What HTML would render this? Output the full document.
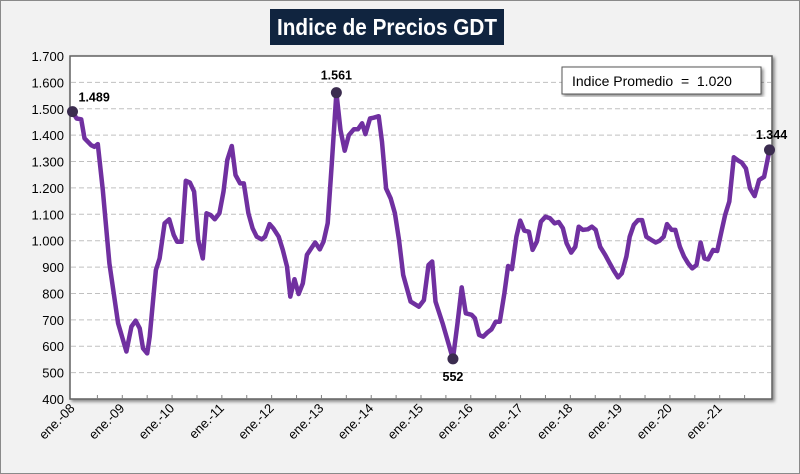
<!DOCTYPE html>
<html><head><meta charset="utf-8"><style>
body{margin:0;background:#fff;}
svg{display:block;font-family:"Liberation Sans",sans-serif;}
</style></head><body>
<svg width="800" height="474" viewBox="0 0 800 474">
<defs><filter id="sh" x="-5%" y="-5%" width="115%" height="115%"><feDropShadow dx="2" dy="2" stdDeviation="1.5" flood-color="#000" flood-opacity="0.45"/></filter></defs>
<rect x="0.5" y="0.5" width="799" height="473" fill="#f2f2f2" stroke="#8a8a8a"/>
<rect x="270" y="9" width="234" height="36" fill="#10243f"/>
<text x="277" y="35" textLength="220" lengthAdjust="spacingAndGlyphs" fill="#fff" font-size="23" font-weight="bold">Indice de Precios GDT</text>
<rect x="70" y="56" width="702" height="343" fill="#fff" stroke="#606060" stroke-width="1.5" filter="url(#sh)"/>
<g id="grid"></g><g id="yt"></g><g id="xt"></g>
<path id="line" fill="none" stroke="#7030a0" stroke-width="4.5" stroke-linejoin="round"/>
<g id="marks"></g>
<rect x="562" y="67" width="199" height="27" fill="#fff" stroke="#555" filter="url(#sh)"/>
<text x="572" y="86" font-size="14" fill="#000" xml:space="preserve" style="white-space:pre">Indice Promedio  =  1.020</text>
</svg>
<script>
const months=[0,1,2.1,2.9,4.5,5.3,6.1,7.3,8.9,11,13,14.2,15.2,16.2,17,18,18.6,20.1,21,22.2,23.3,24.4,25.2,26.3,27.3,28.3,29.3,30.3,31.4,32.3,33.3,34.3,35.4,36.4,37.3,38.4,39.3,40.4,41.3,42.4,43.4,44.4,45.6,46.4,47.5,48.4,49.7,50.7,51.7,52.5,53.5,54.5,55.5,56.5,57.7,58.5,59.6,60.5,61.5,62.5,63.6,64.6,65.6,66.6,67.8,68.8,69.8,70.6,71.7,72.6,73.8,74.6,75.6,76.7,77.7,78.7,79.7,81.5,83.5,84.7,85.8,86.7,87.5,89.2,90.6,91.7,92.8,93.8,94.8,96.2,97,98,99,100,101,102,103,104.1,105,105.9,107,107.9,108.9,110,110.9,111.9,112.9,114,115.1,116.2,117.2,118.2,119.1,120.2,121.2,122,123,124.2,125.2,126.1,127.2,128.4,129.5,130.5,131.5,132.4,133.5,134.3,135.3,136.3,137.3,138.3,139.5,140.6,141.5,142.5,143.3,144.4,145.3,146.4,147.4,148.4,149.4,150.4,151.4,152.3,153.2,154.4,155.4,156.5,157.3,158.3,159.4,160.5,161.3,162.3,163.3,164.4,165.5,166.7,167.7,168];
const values=[1489,1463,1460,1388,1362,1356,1366,1192,914,687,580,674,697,668,592,573,636,889,933,1066,1081,1022,996,996,1227,1220,1186,1003,933,1104,1097,1081,1104,1186,1306,1359,1249,1217,1217,1104,1047,1015,1005,1015,1063,1047,1015,965,902,788,854,798,838,946,975,993,967,996,1066,1293,1561,1419,1341,1400,1422,1422,1445,1404,1463,1466,1472,1375,1198,1160,1104,1003,870,769,750,775,908,921,769,687,611,552,687,823,725,719,706,643,636,652,664,693,693,801,904,892,1015,1076,1038,1034,965,996,1072,1091,1085,1066,1071,1047,990,955,977,1053,1041,1043,1053,1041,977,946,914,886,861,876,940,1015,1060,1078,1078,1015,1003,993,1000,1015,1063,1041,1041,977,940,914,895,908,993,933,929,965,961,1041,1097,1148,1316,1303,1296,1274,1198,1169,1230,1242,1321,1344];
const yTicks=[400,500,600,700,800,900,1000,1100,1200,1300,1400,1500,1600,1700];
const yLabels=["400","500","600","700","800","900","1.000","1.100","1.200","1.300","1.400","1.500","1.600","1.700"];
const xLabels=["ene.-08","ene.-09","ene.-10","ene.-11","ene.-12","ene.-13","ene.-14","ene.-15","ene.-16","ene.-17","ene.-18","ene.-19","ene.-20","ene.-21"];
const labelled=[{i:0,t:"1.489",dx:6,dy:-10,a:"start"},{i:60,t:"1.561",dx:0,dy:-13,a:"middle"},{i:85,t:"552",dx:0,dy:22,a:"middle"},{i:161,t:"1.344",dx:2,dy:-11,a:"middle"}];
const NS="http://www.w3.org/2000/svg";
const X=m=>72.5+m*(697/168);
const Y=v=>399-(v-400)*(343/1300);
function mk(tag,attrs,parent){const e=document.createElementNS(NS,tag);for(const k in attrs)e.setAttribute(k,attrs[k]);parent.appendChild(e);return e;}
const grid=document.getElementById('grid'),yt=document.getElementById('yt'),xt=document.getElementById('xt'),marks=document.getElementById('marks');
yTicks.forEach((v,i)=>{
  if(v>400&&v<1700){const l=mk('line',{x1:71,x2:771,y1:Y(v),y2:Y(v),stroke:'#c0c0c0','stroke-dasharray':'5 3'},grid);
  
  }
  const t=mk('text',{x:64,y:Y(v)+5,'text-anchor':'end','font-size':'13',fill:'#000'},yt);t.textContent=yLabels[i];
  
  
});
for(let k=1;k<28;k++){const tk=mk('line',{x1:X(k*6),x2:X(k*6),y1:395,y2:399,stroke:'#808080'},xt);
  
  }
xLabels.forEach((s,i)=>{const x=X(i*12)+3;const t=mk('text',{x:x,y:409,'text-anchor':'end','font-size':'13',fill:'#000',transform:`rotate(-45 ${x} 409)`},xt);t.textContent=s;
  
  });
document.getElementById('line').setAttribute('d',months.map((m,i)=>(i?'L':'M')+X(m).toFixed(1)+' '+Y(values[i]).toFixed(1)).join(''));
labelled.forEach(o=>{const cx=X(months[o.i]),cy=Y(values[o.i]);
  const c=mk('circle',{cx:cx,cy:cy,r:5.5,fill:'#3b2c4f'},marks);
  
  
  const t=mk('text',{x:cx+o.dx,y:cy+o.dy,'text-anchor':o.a,'font-size':'12.5','font-weight':'bold',fill:'#000'},marks);t.textContent=o.t;
  
  });
</script>
</body></html>
